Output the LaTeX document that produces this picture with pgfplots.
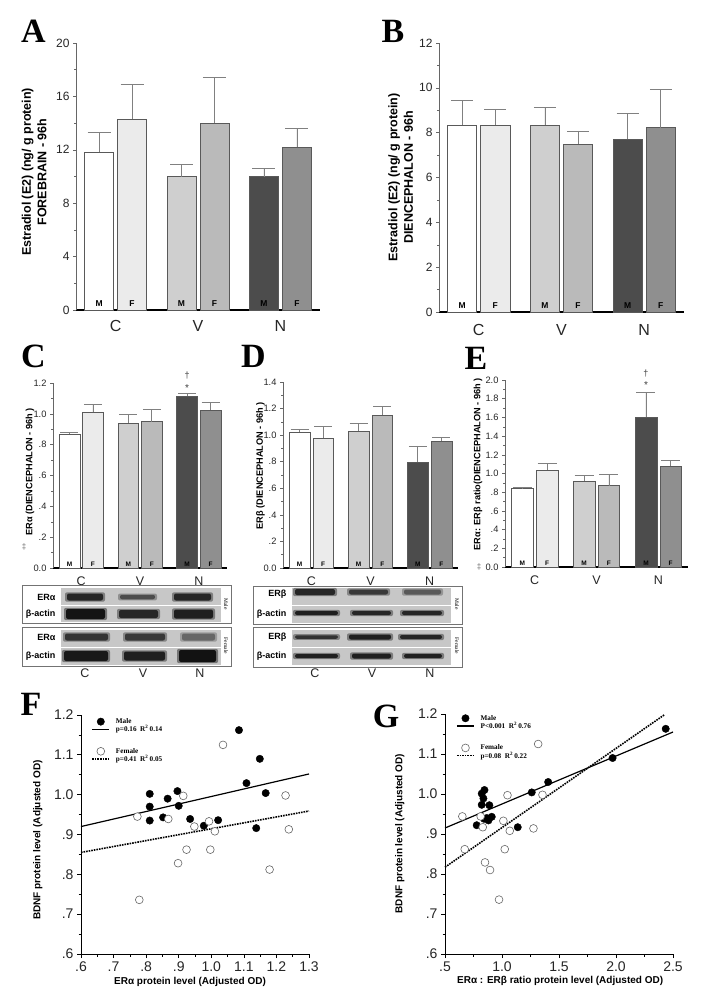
\documentclass[border=0pt]{standalone}
\usepackage{pgfplots}
\pgfplotsset{compat=1.18}
\usepackage{fontspec}
\setmainfont{Liberation Sans}
\newfontfamily\tnr{Liberation Serif}
\newcommand{\fs}[2]{\fontsize{#1}{#2}\selectfont}
\definecolor{cM}{gray}{1.00}
\definecolor{cF}{gray}{0.92}
\definecolor{vM}{gray}{0.81}
\definecolor{vF}{gray}{0.73}
\definecolor{nM}{gray}{0.30}
\definecolor{nF}{gray}{0.56}
\pgfplotsset{
  /pgf/number format/assume math mode=true,
  barax/.style={
    scale only axis, anchor=south west,
    axis x line=bottom, axis y line=left,
    axis line style={-},
    x axis line style={-, line width=1.3pt, black},
    y axis line style={-, line width=0.5pt, black!60},
    xmin=-0.7, xmax=6.7, ymin=0,
    xtick={0.5,3,5.5}, xticklabels={C,V,N},
    x tick style={draw=none},
    y tick style={black!60, line width=0.5pt},
    tick align=outside, major tick length=3pt, minor tick length=2pt,
    xticklabel style={anchor=center, black!85},
    yticklabel style={black!85},
    clip=false,
  },
  mybar/.style 2 args={ybar, bar shift=0pt, bar width=0.88, draw=black!65,
    line width=0.5pt, fill=#1,
    error bars/y dir=plus, error bars/y explicit,
    error bars/error bar style={black!50, line width=0.7pt},
    error bars/error mark options={rotate=90, black!50, line width=0.7pt, mark size=#2}},
  scatax/.style={
    scale only axis, anchor=south west,
    axis x line=bottom, axis y line=left,
    axis line style={-, line width=0.8pt, black},
    tick align=outside, major tick length=4pt, minor tick length=2.5pt,
    tick style={black, line width=0.7pt},
    ticklabel style={font=\fs{14}{16}, black!85},
    label style={font=\bfseries\fs{10}{12}},
    clip=false,
    ymin=0.6, ymax=1.2,
    ytick={0.6,0.7,0.8,0.9,1.0,1.1,1.2},
    yticklabels={.6,.7,.8,.9,1.0,1.1,1.2},
    minor ytick={0.65,0.75,0.85,0.95,1.05,1.15},
    legend style={draw=none, fill=none, font=\tnr\bfseries\fs{7.2}{8},
      anchor=north west, inner sep=0pt, row sep=-1pt,
      nodes={inner sep=0.8pt},
      /tikz/every odd column/.append style={column sep=5pt}},
    legend cell align=left,
  },
  male/.style={only marks, mark=*, mark size=3.7pt, mark options={black, fill=black}},
  female/.style={only marks, mark=*, mark size=3.9pt, mark options={draw=black!60, fill=white, line width=0.6pt}},
}
\newcommand{\band}[5]{%
  \fill[black!#5, opacity=0.45, rounded corners=2pt] (axis cs:#1,#3-#4/2-1.2) rectangle (axis cs:#2,#3+#4/2+1.2);
  \fill[black!#5, rounded corners=2pt] (axis cs:#1+2,#3-#4/2) rectangle (axis cs:#2-2,#3+#4/2);
}
\begin{document}
\begin{tikzpicture}
\path[use as bounding box] (0,0) rectangle (712pt,-1003pt);
\fill[white] (0,0) rectangle (712pt,-1003pt);

% ---------------- A ----------------
\begin{axis}[barax, at={(76pt,-310pt)}, width=244pt, height=267pt,
  ymax=20, ytick={0,4,8,12,16,20}, minor ytick={2,6,10,14,18},
  yticklabel style={font=\fs{12}{14}},
  xticklabel style={font=\fs{16}{18}, yshift=-13pt},
  ylabel={Estradiol (E2) (ng/ g protein)\\FOREBRAIN - 96h},
  ylabel style={at={(axis description cs:-0.172,0.517)}, anchor=center,
    font=\bfseries\fs{12.5}{15.5}, align=center}]
\addplot[mybar={cM}{11.5pt}] coordinates {(0,11.8) +- (0,1.5)};
\addplot[mybar={cF}{11.5pt}] coordinates {(1,14.3) +- (0,2.6)};
\addplot[mybar={vM}{11.5pt}] coordinates {(2.5,10.0) +- (0,0.9)};
\addplot[mybar={vF}{11.5pt}] coordinates {(3.5,14.0) +- (0,3.4)};
\addplot[mybar={nM}{11.5pt}] coordinates {(5,10.0) +- (0,0.6)};
\addplot[mybar={nF}{11.5pt}] coordinates {(6,12.2) +- (0,1.4)};
\foreach \xx/\tt in {0/M,1/F,2.5/M,3.5/F,5/M,6/F}{
  \edef\tmp{\noexpand\node[font=\noexpand\bfseries\noexpand\fs{8.5}{9}, anchor=base, yshift=3.5pt] at (axis cs:\xx,0) {\tt};}\tmp}
\end{axis}

% ---------------- B ----------------
\begin{axis}[barax, at={(439pt,-312pt)}, width=245pt, height=269pt,
  ymax=12, ytick={0,2,4,6,8,10,12}, minor ytick={1,3,5,7,9,11},
  yticklabel style={font=\fs{12}{14}},
  xticklabel style={font=\fs{16}{18}, yshift=-15pt},
  ylabel={Estradiol (E2) (ng/ g protein)\\DIENCEPHALON - 96h},
  ylabel style={at={(axis description cs:-0.157,0.5)}, anchor=center,
    font=\bfseries\fs{12.5}{15.5}, align=center}]
\addplot[mybar={cM}{11pt}] coordinates {(0,8.35) +- (0,1.07)};
\addplot[mybar={cF}{11pt}] coordinates {(1,8.35) +- (0,0.67)};
\addplot[mybar={vM}{11pt}] coordinates {(2.5,8.35) +- (0,0.77)};
\addplot[mybar={vF}{11pt}] coordinates {(3.5,7.49) +- (0,0.59)};
\addplot[mybar={nM}{11pt}] coordinates {(5,7.70) +- (0,1.16)};
\addplot[mybar={nF}{11pt}] coordinates {(6,8.23) +- (0,1.71)};
\foreach \xx/\tt in {0/M,1/F,2.5/M,3.5/F,5/M,6/F}{
  \edef\tmp{\noexpand\node[font=\noexpand\bfseries\noexpand\fs{8.5}{9}, anchor=base, yshift=3.5pt] at (axis cs:\xx,0) {\tt};}\tmp}
\end{axis}

% ---------------- C ----------------
\begin{axis}[barax, at={(53pt,-568pt)}, width=174pt, height=185pt,
  ymax=1.2, ytick={0,0.2,0.4,0.6,0.8,1.0,1.2},
  yticklabels={0.0,.2,.4,.6,.8,1.0,1.2},
  minor ytick={0.1,0.3,0.5,0.7,0.9,1.1},
  yticklabel style={font=\fs{9.3}{11}},
  xticklabel style={font=\fs{12.5}{14}, yshift=-10pt},
  ylabel={ERα (DIENCEPHALON - 96h )},
  ylabel style={at={(axis description cs:-0.132,0.52)}, anchor=center,
    font=\bfseries\fs{9.2}{11}}]
\addplot[mybar={cM}{9pt}] coordinates {(0,0.870) +- (0,0.008)};
\addplot[mybar={cF}{9pt}] coordinates {(1,1.009) +- (0,0.054)};
\addplot[mybar={vM}{9pt}] coordinates {(2.5,0.939) +- (0,0.059)};
\addplot[mybar={vF}{9pt}] coordinates {(3.5,0.950) +- (0,0.076)};
\addplot[mybar={nM}{9pt}] coordinates {(5,1.117) +- (0,0.018)};
\addplot[mybar={nF}{9pt}] coordinates {(6,1.026) +- (0,0.046)};
\foreach \xx/\tt in {0/M,1/F,2.5/M,3.5/F,5/M,6/F}{
  \edef\tmp{\noexpand\node[font=\noexpand\bfseries\noexpand\fs{6.5}{7}, anchor=base, yshift=1.8pt] at (axis cs:\xx,0) {\tt};}\tmp}
\node[font=\fs{10}{10}, black!75] at (axis cs:5,1.165) {*};
\node[font=\fs{9}{10}, black!75] at (axis cs:5,1.25) {†};
\end{axis}

% ---------------- D ----------------
\begin{axis}[barax, at={(283pt,-568pt)}, width=175pt, height=186pt,
  ymax=1.4, ytick={0,0.2,0.4,0.6,0.8,1.0,1.2,1.4},
  yticklabels={0.0,.2,.4,.6,.8,1.0,1.2,1.4},
  minor ytick={0.1,0.3,0.5,0.7,0.9,1.1,1.3},
  yticklabel style={font=\fs{9.3}{11}},
  xticklabel style={font=\fs{12.5}{14}, yshift=-10pt},
  ylabel={ERβ (DIENCEPHALON - 96h )},
  ylabel style={at={(axis description cs:-0.128,0.55)}, anchor=center,
    font=\bfseries\fs{9.2}{11}}]
\addplot[mybar={cM}{9pt}] coordinates {(0,1.025) +- (0,0.020)};
\addplot[mybar={cF}{9pt}] coordinates {(1,0.975) +- (0,0.093)};
\addplot[mybar={vM}{9pt}] coordinates {(2.5,1.030) +- (0,0.058)};
\addplot[mybar={vF}{9pt}] coordinates {(3.5,1.151) +- (0,0.063)};
\addplot[mybar={nM}{9pt}] coordinates {(5,0.798) +- (0,0.121)};
\addplot[mybar={nF}{9pt}] coordinates {(6,0.955) +- (0,0.025)};
\foreach \xx/\tt in {0/M,1/F,2.5/M,3.5/F,5/M,6/F}{
  \edef\tmp{\noexpand\node[font=\noexpand\bfseries\noexpand\fs{6.5}{7}, anchor=base, yshift=1.8pt] at (axis cs:\xx,0) {\tt};}\tmp}
\end{axis}

% ---------------- E ----------------
\begin{axis}[barax, at={(505pt,-567pt)}, width=183pt, height=187pt,
  ymax=2.0, ytick={0,0.2,0.4,0.6,0.8,1.0,1.2,1.4,1.6,1.8,2.0},
  yticklabels={0.0,.2,.4,.6,.8,1.0,1.2,1.4,1.6,1.8,2.0},
  minor ytick={0.1,0.3,0.5,0.7,0.9,1.1,1.3,1.5,1.7,1.9},
  yticklabel style={font=\fs{9.3}{11}},
  xticklabel style={font=\fs{12.5}{14}, yshift=-10pt},
  ylabel={ERα: ERβ ratio(DIENCEPHALON - 96h )},
  ylabel style={at={(axis description cs:-0.148,0.55)}, anchor=center,
    font=\bfseries\fs{9.2}{11}}]
\addplot[mybar={cM}{9.5pt}] coordinates {(0,0.84) +- (0,0.01)};
\addplot[mybar={cF}{9.5pt}] coordinates {(1,1.04) +- (0,0.07)};
\addplot[mybar={vM}{9.5pt}] coordinates {(2.5,0.92) +- (0,0.06)};
\addplot[mybar={vF}{9.5pt}] coordinates {(3.5,0.87) +- (0,0.12)};
\addplot[mybar={nM}{9.5pt}] coordinates {(5,1.60) +- (0,0.27)};
\addplot[mybar={nF}{9.5pt}] coordinates {(6,1.08) +- (0,0.06)};
\foreach \xx/\tt in {0/M,1/F,2.5/M,3.5/F,5/M,6/F}{
  \edef\tmp{\noexpand\node[font=\noexpand\bfseries\noexpand\fs{6.5}{7}, anchor=base, yshift=1.8pt] at (axis cs:\xx,0) {\tt};}\tmp}
\node[font=\fs{10}{10}, black!75] at (axis cs:5,1.95) {*};
\node[font=\fs{9}{10}, black!75] at (axis cs:5,2.07) {†};
\end{axis}

% ---------------- F ----------------
\begin{axis}[scatax, at={(81pt,-954pt)}, width=228pt, height=239pt,
  xmin=0.6, xmax=1.3,
  xtick={0.6,0.7,0.8,0.9,1.0,1.1,1.2,1.3},
  xticklabels={.6,.7,.8,.9,1.0,1.1,1.2,1.3},
  minor xtick={0.65,0.75,0.85,0.95,1.05,1.15,1.25},
  xlabel={ERα protein level (Adjusted OD)},
  ylabel={BDNF protein level (Adjusted OD)},
  xlabel style={at={(axis description cs:0.478,-0.117)}, anchor=center},
  ylabel style={at={(axis description cs:-0.189,0.477)}, anchor=center},
  legend style={at={(0.045,0.99)}}]
\addplot[male] coordinates {(0.811,1.002) (0.811,0.970) (0.811,0.935) (0.852,0.943)
  (0.866,0.990) (0.896,1.009) (0.900,0.972) (0.935,0.939) (0.977,0.922) (1.021,0.936)
  (1.085,1.162) (1.108,1.029) (1.149,1.090) (1.138,0.916) (1.167,1.004)};
\addlegendentry{Male}
\addplot[black, line width=1.2pt] coordinates {(0.6,0.920) (1.3,1.052)};
\addlegendentry{p=0.16\ \ R\textsuperscript{2}\,0.14}
\addlegendimage{empty legend}
\addlegendentry{\rule{0pt}{12pt}}
\addplot[female] coordinates {(0.773,0.945) (0.779,0.736) (0.868,0.939) (0.914,0.997)
  (0.898,0.828) (0.924,0.862) (0.948,0.920) (0.993,0.933) (0.997,0.862) (1.011,0.908)
  (1.036,1.125) (1.179,0.812) (1.228,0.998) (1.238,0.913)};
\addlegendentry{Female}
\addplot[black, line width=1.6pt, densely dotted] coordinates {(0.6,0.855) (1.3,0.959)};
\addlegendentry{p=0.41\ \ R\textsuperscript{2}\,0.05}
\end{axis}

% ---------------- G ----------------
\begin{axis}[scatax, at={(445pt,-954pt)}, width=228pt, height=240pt,
  xmin=0.5, xmax=2.5,
  xtick={0.5,1.0,1.5,2.0,2.5},
  xticklabels={.5,1.0,1.5,2.0,2.5},
  minor xtick={0.75,1.25,1.75,2.25},
  xlabel={ERα : ERβ ratio protein level (Adjusted OD)},
  ylabel={BDNF protein level (Adjusted OD)},
  xlabel style={at={(axis description cs:0.505,-0.1125)}, anchor=center},
  ylabel style={at={(axis description cs:-0.198,0.502)}, anchor=center},
  legend style={at={(0.048,1.0)}}]
\addplot[male] coordinates {(0.778,0.922) (0.822,1.001) (0.846,1.010) (0.837,0.989)
  (0.822,0.973) (0.889,0.972) (0.843,0.938) (0.866,0.940) (0.910,0.943) (0.881,0.934)
  (1.138,0.917) (1.261,1.004) (1.405,1.030) (1.970,1.090) (2.436,1.163)};
\addlegendentry{Male}
\addplot[black, line width=1.2pt] coordinates {(0.5,0.915) (2.5,1.155)};
\addlegendentry{P<0.001\ \ R\textsuperscript{2}\,0.76}
\addlegendimage{empty legend}
\addlegendentry{\rule{0pt}{12pt}}
\addplot[female] coordinates {(0.652,0.944) (0.673,0.862) (0.831,0.917) (0.851,0.829)
  (0.895,0.810) (0.974,0.736) (1.012,0.933) (1.024,0.862) (1.048,0.997) (1.068,0.908)
  (1.276,0.914) (1.317,1.125) (1.355,0.998) (0.813,0.944)};
\addlegendentry{Female}
\addplot[black, line width=1.6pt, densely dotted] coordinates {(0.5,0.817) (2.424,1.198)};
\addlegendentry{p=0.08\ \ R\textsuperscript{2}\,0.22}
\end{axis}

% ---------------- overlay: letters and blots ----------------
\begin{axis}[at={(0pt,0pt)}, anchor=north west, scale only axis,
  width=712pt, height=1003pt, xmin=0, xmax=712, ymin=0, ymax=1003,
  y dir=reverse, hide axis, clip=false]
\addplot[draw=none] coordinates {(0,0)};
% panel letters
\foreach \lx/\ly/\lt in {33.5/31.5/A, 393/31.5/B, 33.5/356/C, 253.5/356/D, 476/358.5/E, 31/704/F, 386/716/G}{
  \edef\tmp{\noexpand\node[font=\noexpand\tnr\noexpand\bfseries\noexpand\fs{34}{36}, inner sep=0pt] at (axis cs:\lx,\ly) {\lt};}\tmp}
% dagger marks
\node[font=\fs{8}{8}, black!60] at (axis cs:24,547) {‡};
\node[font=\fs{8}{8}, black!60] at (axis cs:479,567) {‡};
% ---- left blot (ER alpha) ----
\draw[black!55, line width=0.8pt, fill=white] (axis cs:22,585) rectangle (axis cs:231,623);
\fill[black!22] (axis cs:61,587.5) rectangle (axis cs:221,621.5);
\draw[white, line width=1.5pt] (axis cs:61,605.5) -- (axis cs:221,605.5);
\draw[black!55, line width=0.8pt, fill=white] (axis cs:22,627) rectangle (axis cs:231,666);
\fill[black!22] (axis cs:61,629.5) rectangle (axis cs:221,664.5);
\draw[white, line width=1.5pt] (axis cs:61,647.5) -- (axis cs:221,647.5);
\band{65}{105}{597}{7}{85}
\band{118}{157}{597}{4.5}{70}
\band{172}{213}{597}{7}{85}
\band{64}{107}{614}{10}{92}
\band{117}{160}{614}{8}{85}
\band{172}{215}{614}{9}{88}
\band{63}{110}{637}{7}{80}
\band{123}{167}{637}{7}{78}
\band{180}{217}{637}{7}{60}
\band{62}{110}{656}{10}{90}
\band{122}{167}{656}{9}{88}
\band{177}{218}{656}{12}{93}
\node[font=\bfseries\fs{9}{10}, anchor=east] at (axis cs:59,597) {ERα};
\node[font=\bfseries\fs{9}{10}, anchor=east] at (axis cs:59,614) {β-actin};
\node[font=\bfseries\fs{9}{10}, anchor=east] at (axis cs:59,637) {ERα};
\node[font=\bfseries\fs{9}{10}, anchor=east] at (axis cs:59,656) {β-actin};
\node[font=\tnr\fs{5.5}{6}, rotate=-90] at (axis cs:226,604) {Male};
\node[font=\tnr\fs{5.5}{6}, rotate=-90] at (axis cs:226,646) {Female};
% ---- right blot (ER beta) ----
\draw[black!55, line width=0.8pt, fill=white] (axis cs:253,586) rectangle (axis cs:462,624);
\fill[black!22] (axis cs:292,587.5) rectangle (axis cs:451,622.5);
\draw[white, line width=1.5pt] (axis cs:292,605.5) -- (axis cs:451,605.5);
\draw[black!55, line width=0.8pt, fill=white] (axis cs:253,627) rectangle (axis cs:462,667);
\fill[black!22] (axis cs:292,629.5) rectangle (axis cs:451,665);
\draw[white, line width=1.5pt] (axis cs:292,647.5) -- (axis cs:451,647.5);
\band{293}{337}{592}{6}{85}
\band{347}{390}{592}{5}{78}
\band{402}{443}{592}{5}{65}
\band{293}{340}{613}{4}{88}
\band{350}{393}{613}{4}{85}
\band{400}{444}{613}{4}{85}
\band{293}{340}{637}{3.5}{80}
\band{347}{393}{637}{5}{88}
\band{398}{444}{637}{4}{85}
\band{293}{340}{656}{4}{88}
\band{350}{393}{656}{5}{88}
\band{402}{444}{656}{4}{88}
\node[font=\bfseries\fs{9}{10}, anchor=east] at (axis cs:290,594) {ERβ};
\node[font=\bfseries\fs{9}{10}, anchor=east] at (axis cs:290,614) {β-actin};
\node[font=\bfseries\fs{9}{10}, anchor=east] at (axis cs:290,637) {ERβ};
\node[font=\bfseries\fs{9}{10}, anchor=east] at (axis cs:290,656) {β-actin};
\node[font=\tnr\fs{5.5}{6}, rotate=-90] at (axis cs:457,604) {Male};
\node[font=\tnr\fs{5.5}{6}, rotate=-90] at (axis cs:457,646) {Female};
% lower group labels
\foreach \lx/\lt in {85/C,143/V,200/N,315/C,372/V,430/N}{
  \edef\tmp{\noexpand\node[font=\noexpand\fs{12.5}{14}, black!85] at (axis cs:\lx,673) {\lt};}\tmp}
\end{axis}
\end{tikzpicture}
\end{document}
